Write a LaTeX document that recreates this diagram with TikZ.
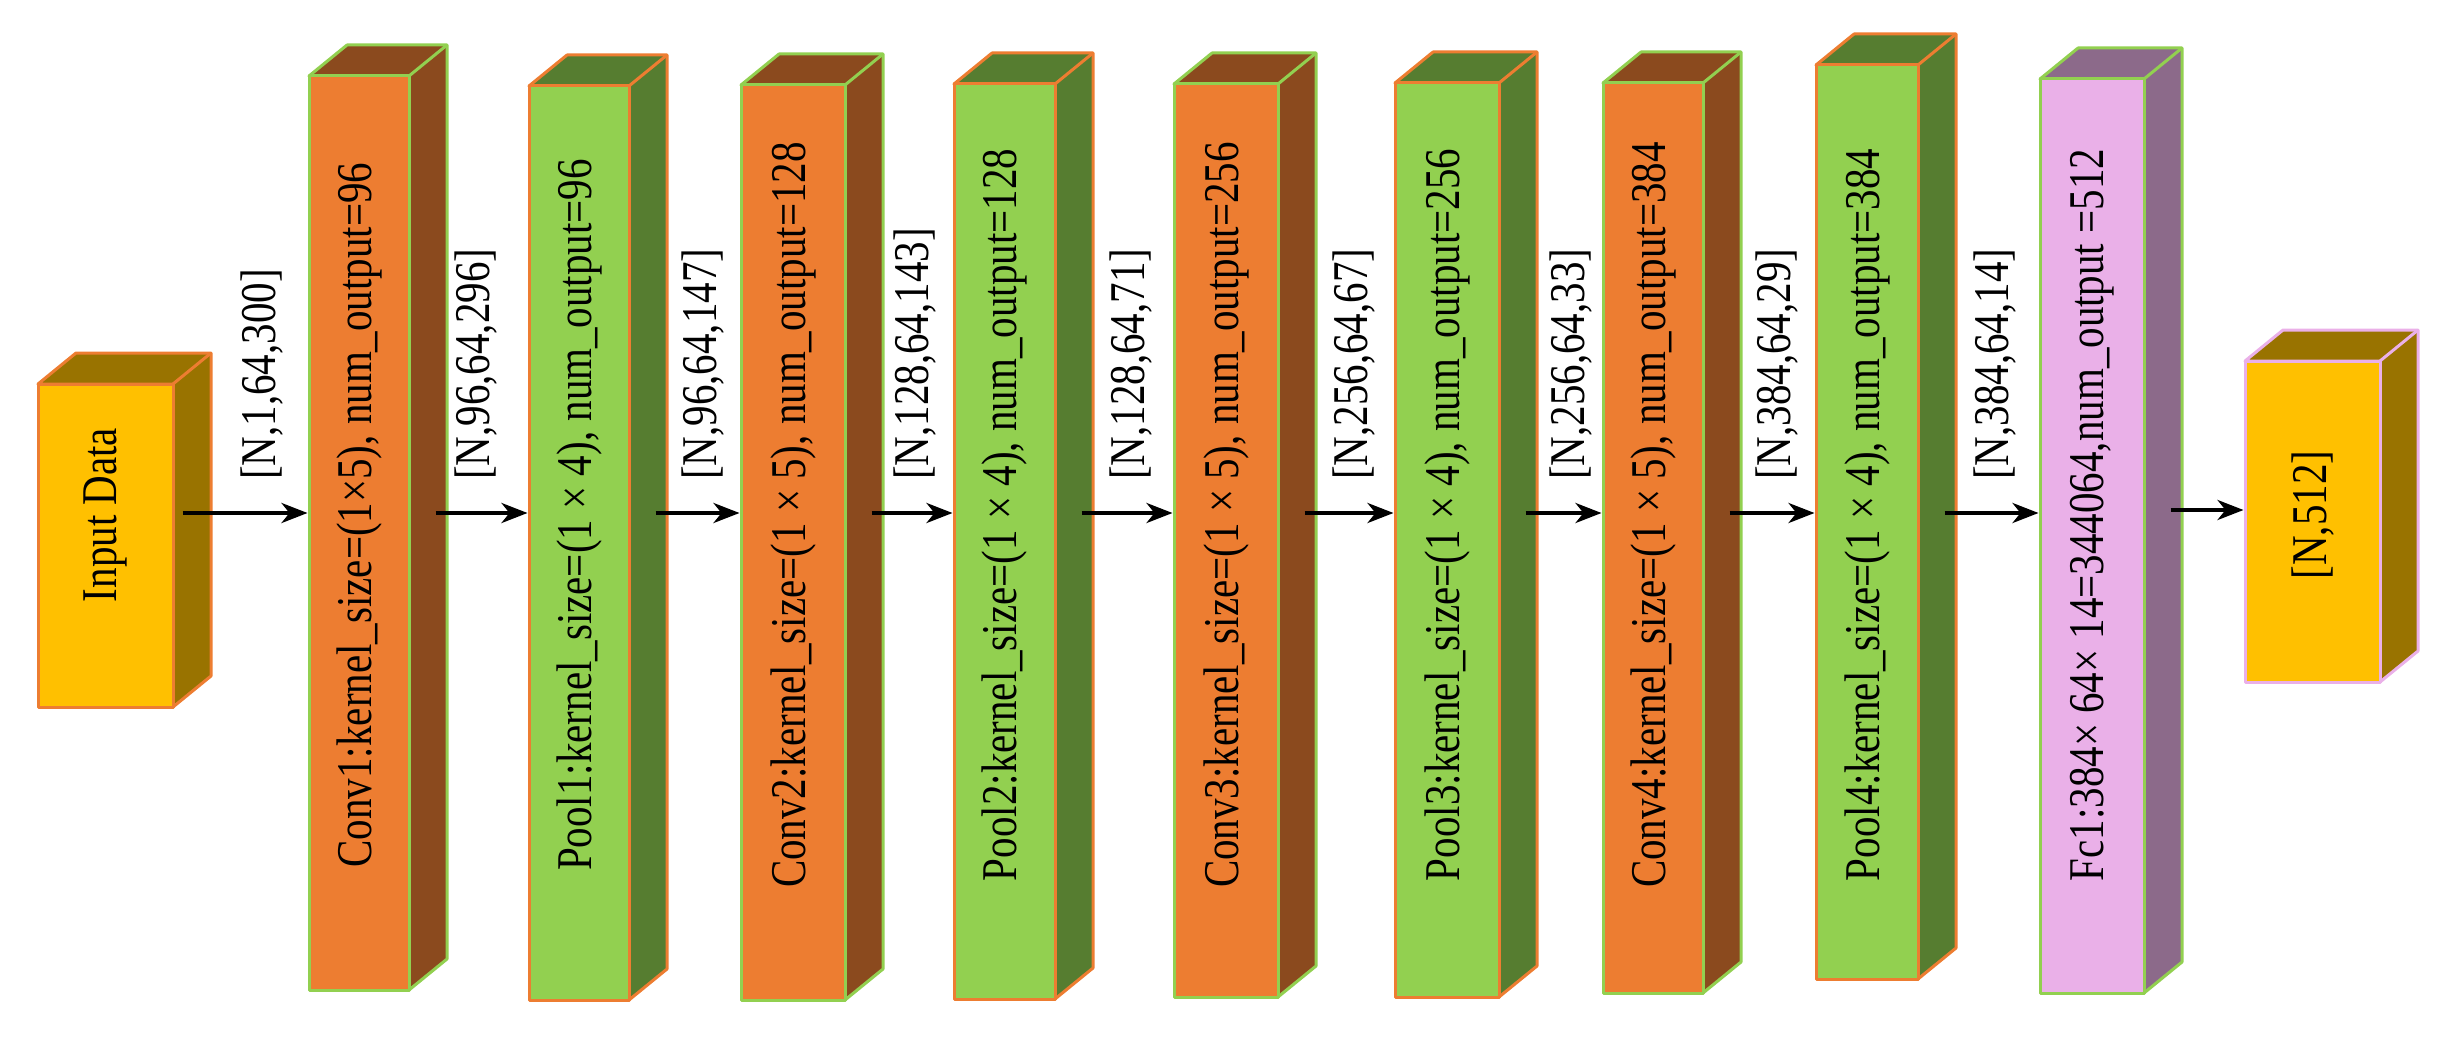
\documentclass[tikz,border=0pt]{standalone}
\usepackage{fontspec}
\setmainfont[FakeStretch=0.82]{Liberation Serif}
\usetikzlibrary{arrows.meta}
\definecolor{orF}{HTML}{ED7D31}\definecolor{orS}{HTML}{8B4A1E}
\definecolor{grF}{HTML}{92D050}\definecolor{grS}{HTML}{567D30}
\definecolor{pkF}{HTML}{EAB0E8}\definecolor{pkS}{HTML}{8C6A8A}
\definecolor{ylF}{HTML}{FFC000}\definecolor{ylS}{HTML}{997300}
\tikzset{
  face/.style={line width=3pt,line join=round},
  conn/.style={line width=4pt,-{Stealth[length=26pt,width=20pt,inset=8pt]}},
  dimlabel/.style={rotate=90,anchor=west,inner sep=0pt,font=\fontsize{50}{50}\selectfont},
  boxtext/.style={font=\fontsize{50}{50}\selectfont}
}
% \cuboid{name}{x1}{y1}{x2}{y2}{front}{side}{line}{text}
\newcommand\cuboid[9]{%
  \path[face,fill=#7,draw=#8] (#2,#3) -- ++(38,-31) -- ({#4+38},{#3-31}) -- ({#4+38},{#5-31}) -- (#4,#5) -- (#4,#3) -- cycle;
  \draw[face,draw=#8] (#4,#3) -- ++(38,-31);
  \node[face,draw=#8,fill=#6,inner sep=0pt,minimum width={(#4-#2)*1pt},minimum height={(#5-#3)*1pt}] (#1) at ({(#2+#4)/2},{(#3+#5)/2}) {};
  \node[boxtext] (#1t) at ({(#2+#4)/2},{min(515,(#3+#5)/2)}) {\rotatebox{90}{#9}};
}
\begin{document}
\begin{tikzpicture}[x=1pt,y=-1pt]
\useasboundingbox (0,0) rectangle (2462,1038);
\coordinate (ay) at (0,513);
\coordinate (by) at (0,510);
\cuboid{in}{38}{384}{173}{707}{ylF}{ylS}{orF}{Input Data}
\cuboid{c1}{309}{76}{409}{990}{orF}{orS}{grF}{Conv1:kernel\_size=(1×5), num\_output=96}
\cuboid{p1}{529}{86}{629}{1000}{grF}{grS}{orF}{Pool1:kernel\_size=(1 × 4), num\_output=96}
\cuboid{c2}{741}{85}{845}{1000}{orF}{orS}{grF}{Conv2:kernel\_size=(1 × 5), num\_output=128}
\cuboid{p2}{954}{84}{1055}{999}{grF}{grS}{orF}{Pool2:kernel\_size=(1 × 4), num\_output=128}
\cuboid{c3}{1174}{84}{1278}{997}{orF}{orS}{grF}{Conv3:kernel\_size=(1 × 5), num\_output=256}
\cuboid{p3}{1395}{83}{1499}{997}{grF}{grS}{orF}{Pool3:kernel\_size=(1 × 4), num\_output=256}
\cuboid{c4}{1603}{83}{1703}{993}{orF}{orS}{grF}{Conv4:kernel\_size=(1 × 5), num\_output=384}
\cuboid{p4}{1816}{65}{1918}{979}{grF}{grS}{orF}{Pool4:kernel\_size=(1 × 4), num\_output=384}
\cuboid{fc}{2040}{79}{2144}{993}{pkF}{pkS}{grF}{Fc1:384× 64× 14=344064,num\_output =512}
\cuboid{out}{2245}{361}{2380}{682}{ylF}{ylS}{pkF}{[N,512]}
\foreach \a/\b/\sh/\lx/\t in {in/c1/8/262/{[N,1,64,300]},c1/p1/25/476/{[N,96,64,296]},p1/c2/25/703/{[N,96,64,147]},c2/p2/25/915/{[N,128,64,143]},p2/c3/25/1131/{[N,128,64,71]},c3/p3/25/1354/{[N,256,64,67]},p3/c4/25/1571/{[N,256,64,33]},c4/p4/25/1777/{[N,384,64,29]},p4/fc/25/1995/{[N,384,64,14]}}{
  \draw[conn] ([xshift=\sh pt]\a.east |- ay) -- (\b.west |- ay);
  \node[dimlabel] (l\a) at (\lx,480) {\t};
}
\draw[conn] ([xshift=25pt]fc.east |- by) -- (out.west |- by);
\end{tikzpicture}
\end{document}
